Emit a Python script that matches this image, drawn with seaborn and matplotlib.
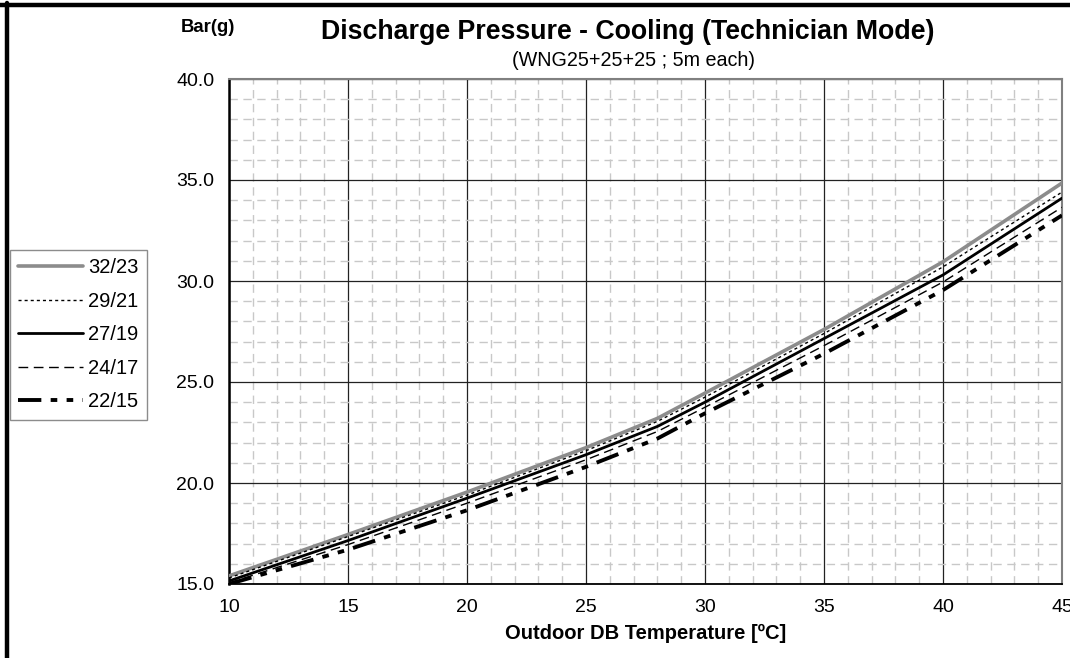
import matplotlib
matplotlib.use("Agg")
import matplotlib.pyplot as plt
from matplotlib.lines import Line2D
from matplotlib.ticker import MultipleLocator, FormatStrFormatter
import seaborn as sns
import pandas as pd

# Outdoor dry-bulb temperature (°C)
outdoor_temp = [10, 15, 20, 25, 28, 30, 35, 40, 45]

# Discharge pressure (bar g) for each indoor condition (DB/WB)
p_32_23 = [15.40, 17.45, 19.55, 21.75, 23.20, 24.45, 27.60, 30.95, 34.85]
p_29_21 = [15.30, 17.35, 19.40, 21.60, 23.05, 24.25, 27.40, 30.70, 34.40]
p_27_19 = [15.15, 17.15, 19.25, 21.40, 22.80, 24.00, 27.15, 30.30, 34.10]
p_24_17 = [15.05, 16.95, 19.00, 21.15, 22.55, 23.75, 26.80, 29.95, 33.65]
p_22_15 = [15.00, 16.70, 18.65, 20.80, 22.20, 23.45, 26.40, 29.55, 33.25]

series_labels = ["32/23", "29/21", "27/19", "24/17", "22/15"]
series_values = [p_32_23, p_29_21, p_27_19, p_24_17, p_22_15]

x_ticks = [10, 15, 20, 25, 30, 35, 40, 45]
y_ticks = [15.0, 20.0, 25.0, 30.0, 35.0, 40.0]

sns.set_style("white")
plt.rcParams["font.family"] = ["Liberation Sans", "DejaVu Sans"]
plt.rcParams["text.color"] = "black"
plt.rcParams["axes.labelcolor"] = "black"
plt.rcParams["xtick.color"] = "black"
plt.rcParams["ytick.color"] = "black"

line_styles = {
    "32/23": dict(color="#8c8c8c", lw=2.6, dashes=(None, None)),
    "29/21": dict(color="black", lw=1.0, dashes=(2.2, 2.2)),
    "27/19": dict(color="black", lw=2.0, dashes=(None, None)),
    "24/17": dict(color="black", lw=1.0, dashes=(7, 4)),
    "22/15": dict(color="black", lw=2.8, dashes=(6.0, 2.4, 1.7, 2.4, 1.7, 2.4)),
}

rows = []
for lab, vals in zip(series_labels, series_values):
    for t, p in zip(outdoor_temp, vals):
        rows.append({"temp": t, "pressure": p, "cond": lab})
df = pd.DataFrame(rows)

fig = plt.figure(figsize=(10.70, 6.58), dpi=100)
ax = fig.add_axes([229 / 1070, 1 - 584 / 658, (1062 - 229) / 1070, (584 - 79) / 658])

handles = []
for lab in series_labels:
    st = line_styles[lab]
    sub = df[df["cond"] == lab]
    sns.lineplot(data=sub, x="temp", y="pressure", ax=ax, color=st["color"],
                 linewidth=st["lw"], legend=False, zorder=3)
    ln = ax.get_lines()[-1]
    if st["dashes"][0] is not None:
        ln.set_dashes(st["dashes"])
    h = Line2D([], [], color=st["color"], linewidth=st["lw"])
    if st["dashes"][0] is not None:
        h.set_dashes(st["dashes"])
    handles.append(h)

ax.set_xlim(10, 45)
ax.set_ylim(15, 40)
ax.set_xticks(x_ticks)
ax.set_yticks(y_ticks)
ax.xaxis.set_minor_locator(MultipleLocator(1))
ax.yaxis.set_minor_locator(MultipleLocator(1))
ax.yaxis.set_major_formatter(FormatStrFormatter("%.1f"))

ax.grid(which="minor", color="#c8c8c8", linewidth=1.0, linestyle=(0, (6, 4)), zorder=0)
ax.grid(which="major", color="#222222", linewidth=0.9, linestyle="-", zorder=1)
ax.set_axisbelow(True)

for side in ["top", "right"]:
    ax.spines[side].set_color("#808080")
    ax.spines[side].set_linewidth(1.5)
for side in ["left", "bottom"]:
    ax.spines[side].set_color("black")
    ax.spines[side].set_linewidth(1.3)
ax.spines["left"].set_linewidth(1.8)

ax.tick_params(axis="both", which="major", direction="inout", length=9, width=1.0,
               labelsize=14, colors="black", pad=6)
ax.tick_params(axis="both", which="minor", direction="inout", length=8, width=1.0, colors="black")
ax.tick_params(axis="x", which="both", top=False)
ax.tick_params(axis="y", which="both", right=False)

ax.set_xlabel("Outdoor DB Temperature [ºC]", fontsize=14.5, fontweight="bold", labelpad=6)
ax.set_ylabel("")

fig.text(628 / 1070, 1 - 32 / 658, "Discharge Pressure - Cooling (Technician Mode)",
         ha="center", va="center", fontsize=19.3, fontweight="bold")
fig.text(634 / 1070, 1 - 60 / 658, "(WNG25+25+25 ; 5m each)",
         ha="center", va="center", fontsize=14.2)
fig.text(208 / 1070, 1 - 28 / 658, "Bar(g)", ha="center", va="center",
         fontsize=13.3, fontweight="bold")

leg = fig.legend(handles, series_labels, loc="upper left",
                 bbox_to_anchor=(10 / 1070, 1 - 250 / 658), fontsize=14.5,
                 frameon=True, fancybox=False, edgecolor="#707070",
                 handlelength=3.2, handletextpad=0.25, labelspacing=0.72,
                 borderpad=0.42, borderaxespad=0.0)
leg.get_frame().set_linewidth(1.0)

# Outer chart frame (top and left edges)
fig.add_artist(Line2D([0, 1], [1 - 4.5 / 658, 1 - 4.5 / 658], color="black",
                      linewidth=3.2, transform=fig.transFigure))
fig.add_artist(Line2D([6.5 / 1070, 6.5 / 1070], [0, 1 - 3 / 658], color="black",
                      linewidth=3.2, transform=fig.transFigure))

fig.savefig("out.png", dpi=100, facecolor="white")
